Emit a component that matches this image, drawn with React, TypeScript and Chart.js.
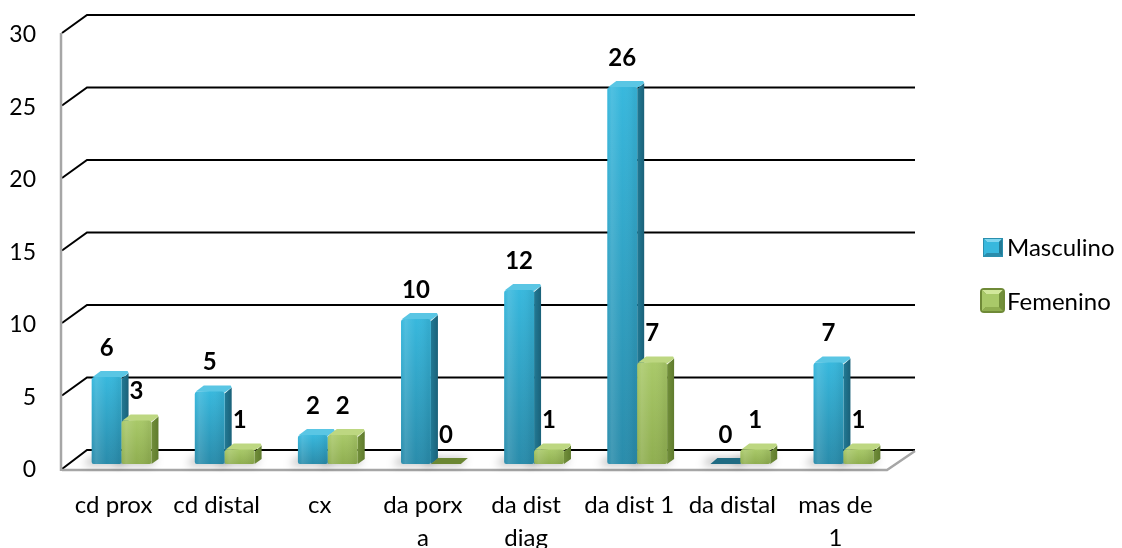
import React, { useEffect, useRef } from "react";
import { Chart, registerables } from "chart.js";

Chart.register(...registerables);

// Categories (multi-line labels are arrays) and the two series
const categories: (string | string[])[] = [
  "cd prox",
  "cd distal",
  "cx",
  ["da porx", "a"],
  ["da dist", "diag"],
  "da dist 1",
  "da distal",
  ["mas de", "1"],
];
const masculino = [6, 5, 2, 10, 12, 26, 0, 7];
const femenino = [3, 1, 2, 0, 1, 7, 1, 1];
const seriesNames = ["Masculino", "Femenino"];
const yTicks = [0, 5, 10, 15, 20, 25, 30];

const FONT = "Lato, 'Open Sans', sans-serif";

type Pal = {
  frontTop: string;
  frontBottom: string;
  side: string;
  sideDark: string;
  top: string;
  zero: string;
  border: string;
};

const palettes: Pal[] = [
  {
    frontTop: "#38b8dd",
    frontBottom: "#2a8cab",
    side: "#227a95",
    sideDark: "#1a6179",
    top: "#5ac6e4",
    zero: "#1f6b83",
    border: "#2a88a6",
  },
  {
    frontTop: "#a9c969",
    frontBottom: "#8fae50",
    side: "#728f3b",
    sideDark: "#5f7b2d",
    top: "#bdd781",
    zero: "#6b8733",
    border: "#77933c",
  },
];

// depth offsets (relative to the plane the bars stand on)
const FRONT = { dx: -8, dy: 4 };
const BACK = { dx: 17, dy: -14 };
const BAR_DEPTH = { dx: 7, dy: -6 };

function draw3DBar(
  ctx: CanvasRenderingContext2D,
  l: number,
  r: number,
  top: number,
  base: number,
  pal: Pal,
  zero: boolean
) {
  const { dx, dy } = BAR_DEPTH;
  if (zero) {
    ctx.beginPath();
    ctx.moveTo(l, base);
    ctx.lineTo(r, base);
    ctx.lineTo(r + dx, base + dy);
    ctx.lineTo(l + dx, base + dy);
    ctx.closePath();
    ctx.fillStyle = pal.zero;
    ctx.fill();
    return;
  }
  // side face
  const sg = ctx.createLinearGradient(r, 0, r + dx, 0);
  sg.addColorStop(0, pal.side);
  sg.addColorStop(1, pal.sideDark);
  ctx.beginPath();
  ctx.moveTo(r, top + 2);
  ctx.lineTo(r + dx, top + dy + 2);
  ctx.lineTo(r + dx, base + dy + 1);
  ctx.lineTo(r, base);
  ctx.closePath();
  ctx.fillStyle = sg;
  ctx.fill();
  // top face
  ctx.beginPath();
  ctx.moveTo(l + 1, top);
  ctx.lineTo(l + dx + 2, top + dy);
  ctx.lineTo(r + dx - 1, top + dy);
  ctx.lineTo(r + dx, top + dy + 2);
  ctx.lineTo(r, top + 1);
  ctx.closePath();
  ctx.fillStyle = pal.top;
  ctx.fill();
  // front face
  const fg = ctx.createLinearGradient(0, top, 0, base);
  fg.addColorStop(0, pal.frontTop);
  fg.addColorStop(1, pal.frontBottom);
  ctx.beginPath();
  (ctx as any).roundRect(l, top, r - l, base - top, [3, 3, 2, 2]);
  ctx.fillStyle = fg;
  ctx.fill();
  // soft highlight near the left edge
  const hg = ctx.createLinearGradient(l, 0, r, 0);
  hg.addColorStop(0, "rgba(255,255,255,0.0)");
  hg.addColorStop(0.15, "rgba(255,255,255,0.12)");
  hg.addColorStop(0.5, "rgba(255,255,255,0.0)");
  hg.addColorStop(0.9, "rgba(0,0,0,0.06)");
  ctx.fillStyle = hg;
  ctx.fill();
}

const scenePlugin = {
  id: "scene3d",
  beforeDatasetsDraw(chart: any) {
    const { ctx, chartArea, scales } = chart;
    const y = scales.y;
    const left = chartArea.left;
    const right = chartArea.right;
    ctx.save();
    // floor
    const y0 = y.getPixelForValue(0);
    ctx.beginPath();
    ctx.moveTo(left + FRONT.dx, y0 + FRONT.dy + 2);
    ctx.lineTo(right + FRONT.dx, y0 + FRONT.dy + 2);
    ctx.lineTo(right + BACK.dx + 3, y0 + BACK.dy + 1);
    ctx.lineTo(left + BACK.dx, y0 + BACK.dy + 1);
    ctx.closePath();
    ctx.fillStyle = "#ffffff";
    ctx.fill();

    // back wall gridlines and their diagonals to the front axis
    ctx.strokeStyle = "#000000";
    ctx.lineWidth = 2;
    yTicks.forEach((v) => {
      const py = y.getPixelForValue(v);
      ctx.beginPath();
      ctx.moveTo(left + FRONT.dx, py + FRONT.dy + (v === 0 ? 1 : 0));
      ctx.lineTo(left + BACK.dx, py + BACK.dy);
      ctx.lineTo(right + BACK.dx + 3, py + BACK.dy);
      ctx.stroke();
    });

    // floor edges (front and right)
    ctx.strokeStyle = "#a6a6a6";
    ctx.lineWidth = 2.5;
    ctx.beginPath();
    ctx.moveTo(left + FRONT.dx, y0 + FRONT.dy + 2);
    ctx.lineTo(right + FRONT.dx, y0 + FRONT.dy + 2);
    ctx.lineTo(right + BACK.dx + 3, y0 + BACK.dy + 1);
    ctx.stroke();

    // front vertical axis
    ctx.beginPath();
    ctx.moveTo(left + FRONT.dx - 1, y.getPixelForValue(30) + FRONT.dy);
    ctx.lineTo(left + FRONT.dx - 1, y0 + FRONT.dy + 3);
    ctx.stroke();

    // value axis labels on the front edge
    ctx.fillStyle = "#000000";
    ctx.font = `23px ${FONT}`;
    ctx.textAlign = "right";
    ctx.textBaseline = "middle";
    yTicks.forEach((v) => {
      ctx.fillText(String(v), left + FRONT.dx - 26, y.getPixelForValue(v) + FRONT.dy + 2);
    });

    // soft shadows beneath the bars
    ctx.filter = "blur(4px)";
    ctx.fillStyle = "rgba(0,0,0,0.28)";
    for (let s = 0; s < 2; s++) {
      const meta = chart.getDatasetMeta(s);
      meta.data.forEach((el: any) => {
        const p = el.getProps(["x", "base", "width"], true);
        const l = p.x - p.width / 2;
        const r = p.x + p.width / 2;
        ctx.beginPath();
        ctx.moveTo(l - 8, p.base + 1);
        ctx.lineTo(r, p.base + 1);
        ctx.lineTo(r + 6, p.base - 6);
        ctx.lineTo(l - 2, p.base - 6);
        ctx.closePath();
        ctx.fill();
      });
    }
    ctx.filter = "none";
    ctx.restore();
  },
  afterDatasetsDraw(chart: any) {
    const { ctx } = chart;
    const series = [masculino, femenino];
    ctx.save();
    for (let i = 0; i < categories.length; i++) {
      for (let s = 0; s < 2; s++) {
        const el = chart.getDatasetMeta(s).data[i];
        const p = el.getProps(["x", "y", "base", "width"], true);
        draw3DBar(
          ctx,
          p.x - p.width / 2,
          p.x + p.width / 2,
          p.y,
          p.base,
          palettes[s],
          series[s][i] === 0
        );
      }
    }
    // value labels
    ctx.fillStyle = "#000000";
    ctx.font = `bold 24px ${FONT}`;
    ctx.textAlign = "center";
    ctx.textBaseline = "middle";
    for (let s = 0; s < 2; s++) {
      chart.getDatasetMeta(s).data.forEach((el: any, i: number) => {
        const p = el.getProps(["x", "y"], true);
        ctx.fillText(String(series[s][i]), p.x, p.y - 29);
      });
    }
    ctx.restore();
  },
  afterDraw(chart: any) {
    const { ctx, chartArea } = chart;
    const lx = chartArea.right + 88;
    ctx.save();
    // Masculino swatch
    drawSwatch(ctx, lx, 238, 20, 19, palettes[0], "#2a8fae", "#7fd6ef", 0);
    // Femenino swatch
    drawSwatch(ctx, lx - 3, 288, 25, 25, palettes[1], "#6f8a37", "#d2e79c", 4);
    ctx.fillStyle = "#000000";
    ctx.font = `24px ${FONT}`;
    ctx.textAlign = "left";
    ctx.textBaseline = "middle";
    ctx.fillText(seriesNames[0], lx + 24, 248);
    ctx.fillText(seriesNames[1], lx + 24, 302);
    ctx.restore();
  },
};

function drawSwatch(
  ctx: CanvasRenderingContext2D,
  x: number,
  y: number,
  w: number,
  h: number,
  pal: Pal,
  outer: string,
  light: string,
  radius: number
) {
  const inset = Math.round(w * 0.22);
  ctx.beginPath();
  (ctx as any).roundRect(x, y, w, h, radius);
  ctx.fillStyle = outer;
  ctx.fill();
  // bevel: top, left, right, bottom facets
  const ix = x + inset;
  const iy = y + inset;
  const iw = w - 2 * inset;
  const ih = h - 2 * inset;
  const pad = radius ? 2 : 1;
  const facet = (pts: number[][], color: string) => {
    ctx.beginPath();
    ctx.moveTo(pts[0][0], pts[0][1]);
    for (let k = 1; k < pts.length; k++) ctx.lineTo(pts[k][0], pts[k][1]);
    ctx.closePath();
    ctx.fillStyle = color;
    ctx.fill();
  };
  const ox = x + pad;
  const oy = y + pad;
  const ow = w - 2 * pad;
  const oh = h - 2 * pad;
  facet([[ox, oy], [ox + ow, oy], [ix + iw, iy], [ix, iy]], light);
  facet([[ox, oy], [ix, iy], [ix, iy + ih], [ox, oy + oh]], pal.frontTop);
  facet([[ox + ow, oy], [ox + ow, oy + oh], [ix + iw, iy + ih], [ix + iw, iy]], pal.side);
  facet([[ox, oy + oh], [ix, iy + ih], [ix + iw, iy + ih], [ox + ow, oy + oh]], pal.frontBottom);
  ctx.fillStyle = pal.frontTop;
  ctx.fillRect(ix, iy, iw, ih);
}

export default function App() {
  const canvasRef = useRef<HTMLCanvasElement | null>(null);

  useEffect(() => {
    const canvas = canvasRef.current;
    if (!canvas) return;
    const chart = new Chart(canvas, {
      type: "bar",
      data: {
        labels: categories as any,
        datasets: [
          {
            label: seriesNames[0],
            data: masculino,
            backgroundColor: "rgba(0,0,0,0)",
            borderWidth: 0,
          },
          {
            label: seriesNames[1],
            data: femenino,
            backgroundColor: "rgba(0,0,0,0)",
            borderWidth: 0,
          },
        ],
      },
      options: {
        animation: false,
        responsive: false,
        devicePixelRatio: 1,
        layout: { padding: { top: 29, right: 227, left: 2, bottom: 0 } },
        plugins: {
          legend: { display: false },
          tooltip: { enabled: false },
        },
        datasets: {
          bar: { categoryPercentage: 0.58, barPercentage: 1 },
        },
        scales: {
          x: {
            grid: { display: false },
            border: { display: false },
            ticks: {
              color: "#000000",
              font: { family: FONT, size: 24, lineHeight: 1.4 },
              padding: 16,
              labelOffset: -8,
              maxRotation: 0,
              autoSkip: false,
            },
            afterFit: (scale: any) => {
              scale.height = 84;
            },
          },
          y: {
            min: 0,
            max: 30,
            grid: { display: false },
            border: { display: false },
            ticks: { display: false, stepSize: 5 },
            afterFit: (scale: any) => {
              scale.width = 68;
            },
          },
        },
      },
      plugins: [scenePlugin],
    });
    return () => chart.destroy();
  }, []);

  return (
    <div style={{ position: "fixed", left: 0, top: 0, width: 1122, height: 548, background: "#ffffff" }}>
      <canvas ref={canvasRef} width={1122} height={548} style={{ display: "block" }} />
    </div>
  );
}
